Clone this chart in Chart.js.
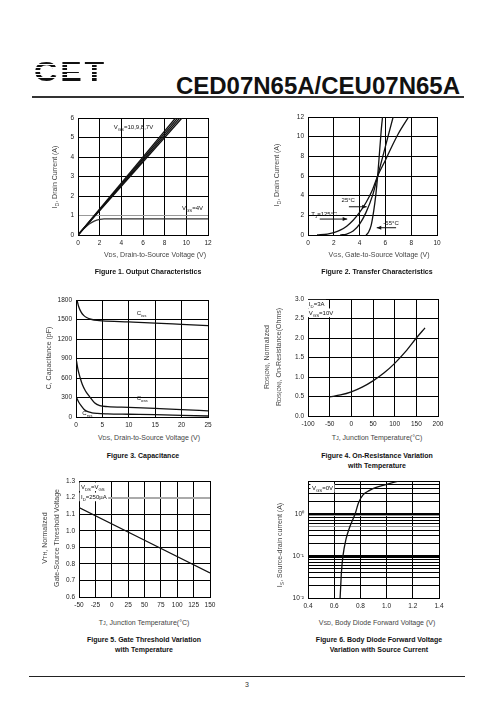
<!DOCTYPE html>
<html><head><meta charset="utf-8">
<script src="https://cdn.jsdelivr.net/npm/chart.js@4.4.1/dist/chart.umd.min.js"></script>
<style>
html,body{margin:0;padding:0;background:#fff;}
body{width:496px;height:723px;position:relative;overflow:hidden;font-family:"Liberation Sans",Arial,sans-serif;color:#111;}
canvas{position:absolute;}
#logo{position:absolute;left:34px;top:58px;font:bold 28px/28px "Liberation Sans",Arial,sans-serif;letter-spacing:2.5px;
  background:repeating-linear-gradient(to bottom,#111 0px,#111 2.2px,rgba(255,255,255,0) 2.2px,rgba(255,255,255,0) 3.4px);
  -webkit-background-clip:text;background-clip:text;color:transparent;transform:scaleX(1.15);transform-origin:left top;}
#title{position:absolute;right:36px;top:74px;font:bold 24px/24px "Liberation Sans",Arial,sans-serif;color:#111;white-space:nowrap;}
#rule1{position:absolute;left:32px;top:96px;width:432px;height:2px;background:#333;}
#rule2{position:absolute;left:29px;top:676px;width:436px;height:1px;background:#222;}
#pagenum{position:absolute;left:247px;top:684px;transform:translate(-50%,-50%);font-size:7px;color:#333;}
.xt{position:absolute;transform:translate(-50%,-50%);white-space:nowrap;font-size:7px;color:#444;}
.yt{position:absolute;transform:translate(-50%,-50%) rotate(-90deg);white-space:nowrap;font-size:7px;color:#444;text-align:center;line-height:11px;}
.cap{position:absolute;transform:translateX(-50%);white-space:nowrap;text-align:center;font-weight:bold;font-size:7px;line-height:10px;color:#111;}
sub{font-size:5px;vertical-align:baseline;position:relative;top:1.5px;}
.s{font-size:5.5px;}
</style></head>
<body>
<div id="logo">CET</div>
<div id="title">CED07N65A/CEU07N65A</div>
<div id="rule1"></div>

<canvas id="c1"></canvas>
<canvas id="c2"></canvas>
<canvas id="c3"></canvas>
<canvas id="c4"></canvas>
<canvas id="c5"></canvas>
<canvas id="c6"></canvas>

<div class="yt" style="left:55px;top:177px">I<sub>D</sub>, Drain Current (A)</div>
<div class="xt" style="left:155px;top:254px">V<span class="s">DS</span>, Drain-to-Source Voltage (V)</div>
<div class="cap" style="left:148px;top:267px">Figure 1. Output Characteristics</div>

<div class="yt" style="left:277px;top:175px">I<sub>D</sub>, Drain Current (A)</div>
<div class="xt" style="left:379px;top:254px">V<span class="s">GS</span>, Gate-to-Source Voltage (V)</div>
<div class="cap" style="left:377px;top:267px">Figure 2. Transfer Characteristics</div>

<div class="yt" style="left:48px;top:358px">C, Capacitance (pF)</div>
<div class="xt" style="left:149px;top:437px">V<span class="s">DS</span>, Drain-to-Source Voltage (V)</div>
<div class="cap" style="left:143px;top:451px">Figure 3. Capacitance</div>

<div class="yt" style="left:273px;top:357px">R<span class="s">DS(ON)</span>, Normalized<br>R<span class="s">DS(ON)</span>, On-Resistance(Ohms)</div>
<div class="xt" style="left:377px;top:437px">T<span class="s">J</span>, Junction Temperature(°C)</div>
<div class="cap" style="left:377px;top:451px">Figure 4. On-Resistance Variation<br>with Temperature</div>

<div class="yt" style="left:50px;top:538px">V<span class="s">TH</span>, Normalized<br>Gate-Source Threshold Voltage</div>
<div class="xt" style="left:144px;top:622px">T<span class="s">J</span>, Junction Temperature(°C)</div>
<div class="cap" style="left:144px;top:635px">Figure 5. Gate Threshold Variation<br>with Temperature</div>

<div class="yt" style="left:280px;top:545px">I<sub>S</sub>, Source-drain current (A)</div>
<div class="xt" style="left:377px;top:622px">V<span class="s">SD</span>, Body Diode Forward Voltage (V)</div>
<div class="cap" style="left:379px;top:635px">Figure 6. Body Diode Forward Voltage<br>Variation with Source Current</div>

<div id="rule2"></div>
<div id="pagenum">3</div>

<script>
// ---------------- DATA ----------------
// Figure 1: Output characteristics (VDS in V, ID in A)
const fig1Vds10V = [0, 9.0];  const fig1Id10V = [0, 6];
const fig1Vds9V  = [0, 9.2];  const fig1Id9V  = [0, 6];
const fig1Vds8V  = [0, 9.4];  const fig1Id8V  = [0, 6];
const fig1Vds7V  = [0, 9.6];  const fig1Id7V  = [0, 6];
const fig1Vds4V  = [0, 0.5, 1.0, 1.5, 2.0, 2.4, 3.0, 12];
const fig1Id4V   = [0, 0.3, 0.55, 0.71, 0.8, 0.83, 0.83, 0.83];

// Figure 2: Transfer characteristics (VGS in V, ID in A)
const fig2Vgs125 = [0.7, 1.5, 2.0, 2.5, 3.0, 3.5, 4.0, 4.5, 5.0, 5.4, 6.0, 6.5, 7.0, 7.8];
const fig2Id125  = [0, 0.1, 0.25, 0.5, 0.9, 1.5, 2.3, 3.3, 4.6, 6.0, 7.6, 9.0, 10.3, 12];
const fig2Vgs25  = [2.5, 3.0, 3.5, 4.0, 4.5, 5.0, 5.4, 5.8, 6.2, 6.6];
const fig2Id25   = [0, 0.1, 0.4, 1.1, 2.3, 4.0, 6.0, 8.0, 10.0, 12];
const fig2VgsM55 = [4.5, 4.7, 4.9, 5.1, 5.25, 5.4, 5.55, 5.7, 5.78];
const fig2IdM55  = [0, 0.3, 1.0, 2.5, 4.0, 6.0, 8.5, 11.0, 12];

// Figure 3: Capacitance (VDS in V, C in pF)
const fig3VdsCiss = [0.2, 0.5, 1, 1.5, 2, 3, 4, 5, 10, 15, 20, 25];
const fig3Ciss    = [1800, 1700, 1610, 1560, 1530, 1500, 1485, 1478, 1462, 1445, 1425, 1405];
const fig3VdsCoss = [0.1, 0.4, 0.8, 1.2, 1.8, 2.5, 3.5, 4.5, 6, 10, 15, 20, 25];
const fig3Coss    = [860, 720, 600, 500, 400, 320, 220, 175, 160, 148, 132, 115, 95];
const fig3VdsCrss = [0.1, 0.5, 1, 1.5, 2, 3, 4, 6, 10, 15, 20, 25];
const fig3Crss    = [300, 230, 170, 120, 90, 65, 55, 48, 42, 35, 25, 15];

// Figure 4: On-resistance vs temperature (TJ in °C, normalized RDS(ON))
const fig4Tj   = [-50, -25, 0, 25, 50, 75, 100, 125, 150, 170];
const fig4Rds  = [0.49, 0.54, 0.62, 0.74, 0.9, 1.1, 1.35, 1.65, 2.0, 2.26];

// Figure 5: Gate threshold vs temperature (TJ in °C, normalized VTH)
const fig5Tj  = [-50, 150];
const fig5Vth = [1.14, 0.745];

// Figure 6: Body diode forward voltage (VSD in V, IS in A)
const fig6Vsd = [0.645, 0.65, 0.655, 0.667, 0.69, 0.72, 0.76, 0.785, 0.82, 0.87, 0.915, 1.0, 1.09];
const fig6Is  = [0.01, 0.02, 0.04, 0.1, 0.25, 0.5, 1.0, 1.8, 2.8, 3.6, 4.2, 5.0, 6.0];

// Tick values / labels
const fig6YTickValues = [0.01,0.02,0.03,0.04,0.05,0.06,0.07,0.08,0.09,0.1,0.2,0.3,0.4,0.5,0.6,0.7,0.8,0.9,1,2,3,4,5,6];
const fig6YDecadeLabels = {0.01: '10\u207B\u00B2', 0.1: '10\u207B\u00B9', 1: '10\u2070'};

// ---------------- RENDERING ----------------
const FONT = '"Liberation Sans", Arial, sans-serif';
const pts = (xs, ys) => xs.map((x, i) => ({x: x, y: ys[i]}));

function drawRich(ctx, str, x, y, size, box) {
  const segs = [];
  const re = /_\{([^}]*)\}|\^\{([^}]*)\}|([^_^]+)/g;
  let m;
  while ((m = re.exec(str))) {
    if (m[1] !== undefined) segs.push({t: m[1], k: 'sub'});
    else if (m[2] !== undefined) segs.push({t: m[2], k: 'sup'});
    else segs.push({t: m[3], k: 'n'});
  }
  const small = size * 0.72;
  let w = 0;
  segs.forEach(s => { ctx.font = (s.k === 'n' ? size : small) + 'px ' + FONT; s.w = ctx.measureText(s.t).width; w += s.w; });
  if (box) { ctx.fillStyle = '#fff'; ctx.fillRect(x - 1.5, y - size * 0.7, w + 3, size * 1.45); }
  ctx.fillStyle = '#111'; ctx.textAlign = 'left'; ctx.textBaseline = 'alphabetic';
  let cx = x; const base = y + size * 0.36;
  segs.forEach(s => {
    ctx.font = (s.k === 'n' ? size : small) + 'px ' + FONT;
    const dy = s.k === 'sub' ? size * 0.3 : (s.k === 'sup' ? -size * 0.4 : 0);
    ctx.fillText(s.t, cx, base + dy);
    cx += s.w;
  });
}

const ANNOT = {
  c1: {texts: [{x: 3.3, y: 5.55, text: 'V_{GS}=10,9,8,7V'}, {x: 9.6, y: 1.4, text: 'V_{GS}=4V'}]},
  c2: {texts: [{x: 2.6, y: 3.55, text: '25°C'}, {x: 0.26, y: 2.13, text: 'T_{J}=125°C'}, {x: 5.84, y: 1.25, text: '-55°C'}],
       arrows: [{from: [3.17, 2.87], to: [4.55, 2.87]}, {from: [0.91, 1.62], to: [3.04, 1.62]}, {from: [6.83, 0.74], to: [5.33, 0.74]}]},
  c3: {texts: [{x: 11.5, y: 1605, text: 'C_{iss}'}, {x: 11.5, y: 290, text: 'C_{oss}'}, {x: 1.2, y: 62, text: 'C_{rss}'}]},
  c4: {texts: [{x: -98, y: 2.87, text: 'I_{D}=3A', box: true}, {x: -98, y: 2.65, text: 'V_{GS}=10V', box: true}]},
  c5: {texts: [{x: -47, y: 1.266, text: 'V_{DS}=V_{GS}', box: true}, {x: -47, y: 1.205, text: 'I_{D}=250µA', box: true}]},
  c6: {texts: [{x: 0.43, y: 4.1, text: 'V_{GS}=0V', box: true}]}
};

const annotPlugin = {
  id: 'annot',
  afterDatasetsDraw(chart) {
    const a = ANNOT[chart.canvas.id]; if (!a) return;
    const ctx = chart.ctx, xs = chart.scales.x, ys = chart.scales.y;
    ctx.save();
    (a.arrows || []).forEach(ar => {
      const x1 = xs.getPixelForValue(ar.from[0]), y1 = ys.getPixelForValue(ar.from[1]);
      const x2 = xs.getPixelForValue(ar.to[0]), y2 = ys.getPixelForValue(ar.to[1]);
      ctx.strokeStyle = '#111'; ctx.lineWidth = 1;
      ctx.beginPath(); ctx.moveTo(x1, y1); ctx.lineTo(x2, y2); ctx.stroke();
      const ang = Math.atan2(y2 - y1, x2 - x1), L = 4.5, W = 2;
      ctx.beginPath(); ctx.moveTo(x2, y2);
      ctx.lineTo(x2 - L * Math.cos(ang) + W * Math.sin(ang), y2 - L * Math.sin(ang) - W * Math.cos(ang));
      ctx.lineTo(x2 - L * Math.cos(ang) - W * Math.sin(ang), y2 - L * Math.sin(ang) + W * Math.cos(ang));
      ctx.closePath(); ctx.fillStyle = '#111'; ctx.fill();
    });
    (a.texts || []).forEach(t => drawRich(ctx, t.text, xs.getPixelForValue(t.x), ys.getPixelForValue(t.y), t.size || 6, t.box));
    ctx.restore();
  }
};

const PADL = 34, PADT = 8, PADR = 12, PADB = 16;
const tickFont = {family: FONT, size: 6.5};

function line(data, extra) {
  return Object.assign({data: data, borderColor: '#111', borderWidth: 1.3, pointRadius: 0, fill: false,
    cubicInterpolationMode: 'monotone'}, extra || {});
}

function axis(opts) {
  const o = {
    type: opts.type || 'linear', min: opts.min, max: opts.max,
    border: {display: true, color: '#000', width: 1},
    grid: {drawTicks: false, color: opts.gridColor || '#000', lineWidth: opts.gridWidth || 1},
    ticks: {font: tickFont, color: '#222', padding: opts.pad || 4, autoSkip: false, maxRotation: 0,
      callback: opts.cb || (v => String(v))}
  };
  if (opts.step !== undefined) o.ticks.stepSize = opts.step;
  if (opts.afterBuildTicks) o.afterBuildTicks = opts.afterBuildTicks;
  return o;
}

function build(id, plot, datasets, xo, yo) {
  const cv = document.getElementById(id);
  const W = plot.w + PADL + PADR, H = plot.h + PADT + PADB;
  cv.width = W; cv.height = H;
  cv.style.width = W + 'px'; cv.style.height = H + 'px';
  cv.style.left = (plot.l - PADL) + 'px'; cv.style.top = (plot.t - PADT) + 'px';
  const xa = axis(xo), ya = axis(yo);
  xa.position = 'bottom'; ya.position = 'left';
  xa.afterFit = s => { s.height = PADB; };
  ya.afterFit = s => { s.width = PADL; };
  return new Chart(cv, {
    type: 'line',
    data: {datasets: datasets},
    options: {
      responsive: false, animation: false, devicePixelRatio: 1,
      layout: {padding: {top: PADT, right: PADR, left: 0, bottom: 0}},
      plugins: {legend: {display: false}, tooltip: {enabled: false}},
      scales: {x: xa, y: ya}
    },
    plugins: [annotPlugin]
  });
}

const near = (a, b) => Math.abs(a - b) < 1e-6;

// Figure 1
build('c1', {l: 78, t: 118, w: 130, h: 117}, [
  line(pts(fig1Vds10V, fig1Id10V)), line(pts(fig1Vds9V, fig1Id9V)),
  line(pts(fig1Vds8V, fig1Id8V)), line(pts(fig1Vds7V, fig1Id7V)),
  line(pts(fig1Vds4V, fig1Id4V), {borderColor: '#333'})
], {min: 0, max: 12, step: 2},
   {min: 0, max: 6, step: 1, gridColor: c => (c.tick && near(c.tick.value, 1)) ? '#999' : '#000'});

// Figure 2
build('c2', {l: 308, t: 117, w: 129, h: 118}, [
  line(pts(fig2Vgs125, fig2Id125)), line(pts(fig2Vgs25, fig2Id25)), line(pts(fig2VgsM55, fig2IdM55))
], {min: 0, max: 10, step: 2}, {min: 0, max: 12, step: 2});

// Figure 3
build('c3', {l: 76, t: 300, w: 132, h: 117}, [
  line(pts(fig3VdsCiss, fig3Ciss)), line(pts(fig3VdsCoss, fig3Coss)), line(pts(fig3VdsCrss, fig3Crss))
], {min: 0, max: 25, step: 5}, {min: 0, max: 1800, step: 300});

// Figure 4
build('c4', {l: 308, t: 299, w: 130, h: 117}, [
  line(pts(fig4Tj, fig4Rds))
], {min: -100, max: 200, step: 50}, {min: 0, max: 3, step: 0.5, cb: v => v.toFixed(1)});

// Figure 5
build('c5', {l: 79, t: 481, w: 131, h: 116}, [
  line(pts(fig5Tj, fig5Vth))
], {min: -50, max: 150, step: 25},
   {min: 0.6, max: 1.3, step: 0.1, cb: v => v.toFixed(1),
    gridColor: c => (c.tick && near(c.tick.value, 1.2)) ? '#aaa' : '#000',
    gridWidth: c => (c.tick && near(c.tick.value, 1.2)) ? 2 : 1});

// Figure 6
build('c6', {l: 308, t: 481, w: 131, h: 117}, [
  line(pts(fig6Vsd, fig6Is))
], {min: 0.4, max: 1.4, step: 0.2, cb: v => v.toFixed(1)},
   {type: 'logarithmic', min: 0.01, max: 6,
    afterBuildTicks: s => { s.ticks = fig6YTickValues.map(v => ({value: v})); },
    cb: v => { for (const k in fig6YDecadeLabels) { if (near(+k, v)) return fig6YDecadeLabels[k]; } return ''; },
    gridColor: c => (c.tick && (near(c.tick.value, 0.9) || near(c.tick.value, 0.5))) ? '#999' : '#000',
    gridWidth: c => (c.tick && (near(c.tick.value, 0.1) || near(c.tick.value, 1))) ? 2 : 1});
</script>
</body></html>
